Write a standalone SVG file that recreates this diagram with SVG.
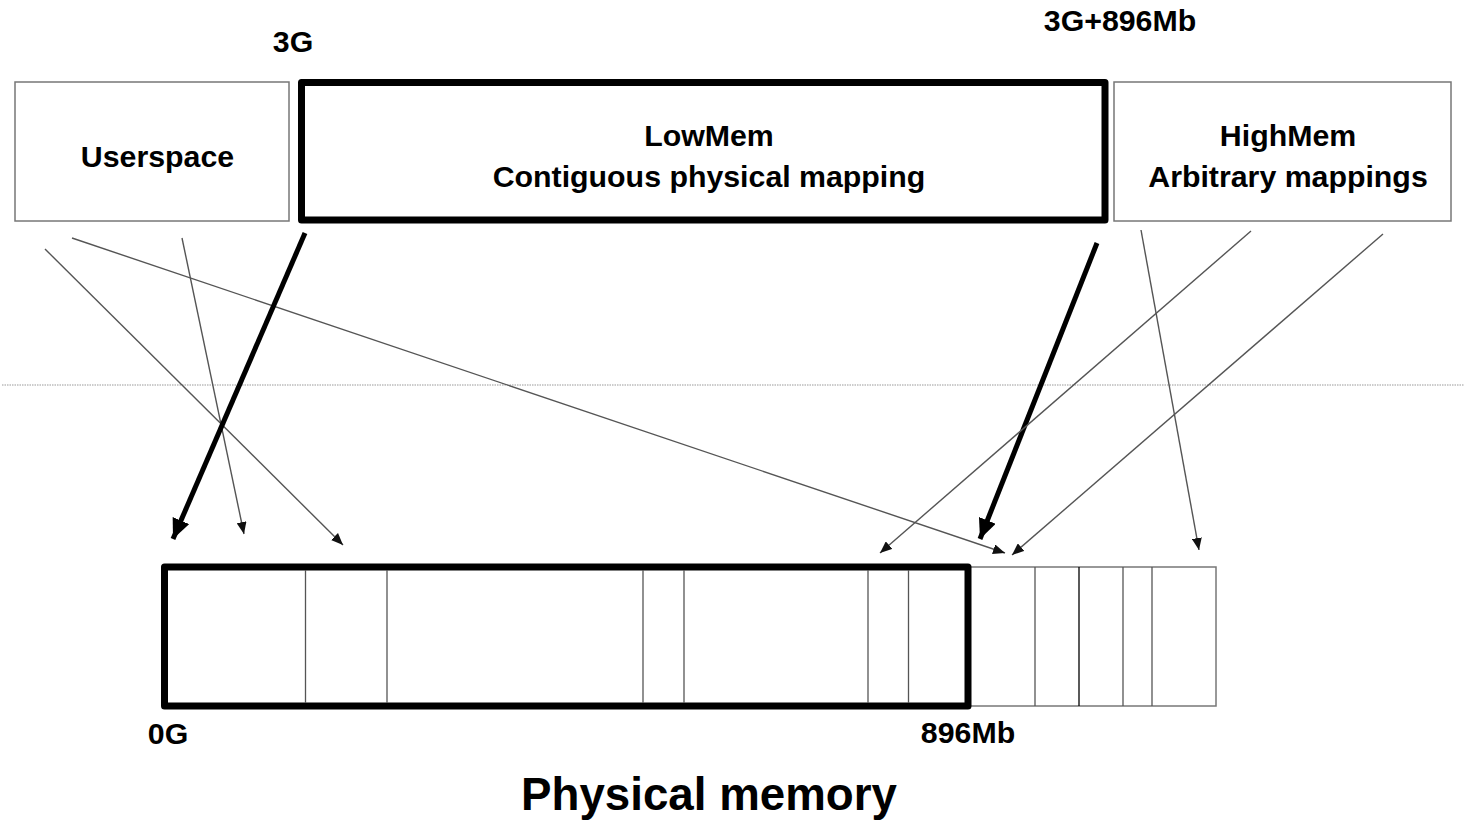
<svg xmlns="http://www.w3.org/2000/svg" width="1464" height="822" viewBox="0 0 1464 822">
<style>
.lbl{font-family:"Liberation Sans",Arial,sans-serif;font-weight:bold;font-size:30.3px;fill:#000;text-anchor:middle}
.title{font-family:"Liberation Sans",Arial,sans-serif;font-weight:bold;font-size:45.7px;fill:#000;text-anchor:middle}
.box{fill:#fff;stroke:#777;stroke-width:1.5}
.thickbox{fill:#fff;stroke:#000;stroke-width:7;stroke-linejoin:round}
.thin{stroke:#555;stroke-width:1.4;fill:none;marker-end:url(#ah)}
.thick{stroke:#000;stroke-width:5;fill:none;marker-end:url(#ahb)}
.div{stroke:#555;stroke-width:1.3}
</style>
<defs>
<marker id="ah" viewBox="0 0 12 10" refX="12" refY="5" markerWidth="12" markerHeight="10" markerUnits="userSpaceOnUse" orient="auto">
<path d="M0,0 L12,5 L0,10 Z" fill="#111"/>
</marker>
<marker id="ahb" viewBox="0 0 20 18" refX="20" refY="9" markerWidth="20" markerHeight="18" markerUnits="userSpaceOnUse" orient="auto">
<path d="M0,0 L20,9 L0,18 Z" fill="#000"/>
</marker>
</defs>
<rect width="1464" height="822" fill="#fff"/>
<line x1="2" y1="385" x2="1464" y2="385" stroke="#999" stroke-width="1.2" stroke-dasharray="1.5,1"/>
<g id="userspace">
<rect class="box" x="15" y="82" width="274" height="139"/>
<text class="lbl" x="157.5" y="167">Userspace</text>
</g>
<g id="lowmem">
<rect class="thickbox" x="301.5" y="82.5" width="803.5" height="137.5"/>
<text class="lbl" x="709" y="146">LowMem</text>
<text class="lbl" x="709" y="187">Contiguous physical mapping</text>
</g>
<g id="highmem">
<rect class="box" x="1114" y="82" width="337" height="139"/>
<text class="lbl" x="1288" y="146">HighMem</text>
<text class="lbl" x="1288" y="187">Arbitrary mappings</text>
</g>
<g id="marks">
<text class="lbl" x="293" y="52">3G</text>
<text class="lbl" x="1120" y="31">3G+896Mb</text>
<text class="lbl" x="168" y="744">0G</text>
<text class="lbl" x="968" y="743">896Mb</text>
</g>
<g id="physical-memory">
<rect class="box" x="968" y="567" width="248" height="139"/>
<line class="div" x1="1035" y1="567" x2="1035" y2="706"/>
<line x1="1079" y1="567" x2="1079" y2="706" stroke="#000" stroke-width="1.3"/>
<line class="div" x1="1123" y1="567" x2="1123" y2="706"/>
<line class="div" x1="1152" y1="567" x2="1152" y2="706"/>
<rect class="thickbox" x="164.5" y="567" width="803.5" height="139"/>
<line class="div" x1="305.5" y1="570" x2="305.5" y2="703"/>
<line class="div" x1="387" y1="570" x2="387" y2="703"/>
<line class="div" x1="643" y1="570" x2="643" y2="703"/>
<line class="div" x1="684" y1="570" x2="684" y2="703"/>
<line class="div" x1="868" y1="570" x2="868" y2="703"/>
<line class="div" x1="908.5" y1="570" x2="908.5" y2="703"/>
<text class="title" x="709" y="810">Physical memory</text>
</g>
<g id="connectors">
<line class="thin" x1="45" y1="249" x2="343" y2="545"/>
<line class="thin" x1="72" y1="238" x2="1005" y2="553"/>
<line class="thin" x1="182" y1="238" x2="244" y2="534"/>
<line class="thick" x1="305" y1="233" x2="173" y2="539"/>
<line class="thick" x1="1097" y1="243" x2="980" y2="539"/>
<line class="thin" x1="1251" y1="231" x2="880" y2="553"/>
<line class="thin" x1="1383" y1="234" x2="1012" y2="555"/>
<line class="thin" x1="1141" y1="230" x2="1199" y2="550"/>
</g>
</svg>
